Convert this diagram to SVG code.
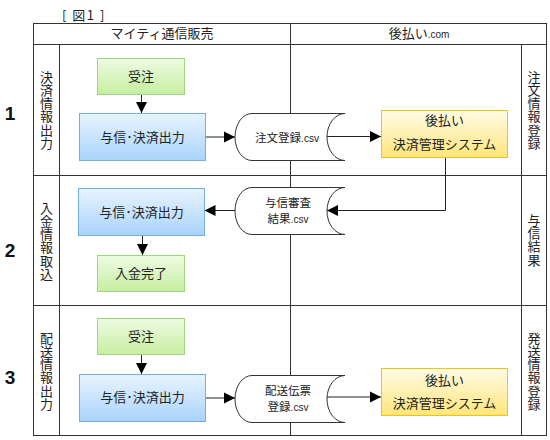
<svg xmlns="http://www.w3.org/2000/svg" width="550" height="440" viewBox="0 0 550 440">
<style>
.t{font-family:"Noto Sans CJK JP","Noto Sans",sans-serif;font-size:13px;fill:#222;text-anchor:middle}
.c{font-family:"Noto Sans CJK JP","Noto Sans",sans-serif;font-size:11.5px;fill:#222;text-anchor:middle}
.s{font-family:"Liberation Sans",Arial,sans-serif;font-size:10px}
.v{font-family:"Noto Sans CJK JP",sans-serif;font-size:13px;fill:#222;text-anchor:middle;writing-mode:vertical-rl;letter-spacing:0.3px}
.n{font-family:"Liberation Sans",Arial,sans-serif;font-size:19px;font-weight:bold;fill:#111;text-anchor:middle}
.fr{stroke:#333;stroke-width:1;fill:none}
.g{fill:url(#gg);stroke:#9ed67a;stroke-width:1}
.b{fill:url(#gb);stroke:#70aee8;stroke-width:1}
.y{fill:url(#gy);stroke:#f5c400;stroke-width:1}
.d{fill:#fff;stroke:#333;stroke-width:1}
.a{stroke:#222;stroke-width:1;fill:none;marker-end:url(#ah)}
</style>
<defs>
<linearGradient id="gg" x1="0" y1="0" x2="0" y2="1"><stop offset="0" stop-color="#eefbe4"/><stop offset="1" stop-color="#c6eea0"/></linearGradient>
<linearGradient id="gb" x1="0" y1="0" x2="0" y2="1"><stop offset="0" stop-color="#e8f4ff"/><stop offset="1" stop-color="#a9d3fb"/></linearGradient>
<linearGradient id="gy" x1="0" y1="0" x2="0" y2="1"><stop offset="0" stop-color="#fffbe6"/><stop offset="1" stop-color="#ffe57a"/></linearGradient>
<marker id="ah" markerUnits="userSpaceOnUse" markerWidth="12" markerHeight="12" refX="11" refY="6" orient="auto"><path d="M0,0.5 L11,6 L0,11.5 Z" fill="#000"/></marker>
</defs>
<rect width="550" height="440" fill="#fff"/>
<text class="t" x="62" y="19.5" style="text-anchor:start;letter-spacing:1.5px" xml:space="preserve">[ 図1 ]</text>
<g id="frame">
<rect class="fr" x="33.5" y="23.5" width="513" height="412"/>
<line class="fr" x1="33.5" y1="44.5" x2="546.5" y2="44.5"/>
<line class="fr" x1="59.5" y1="44.5" x2="59.5" y2="435.5"/>
<line class="fr" x1="290.5" y1="23.5" x2="290.5" y2="435.5"/>
<line class="fr" x1="521.5" y1="44.5" x2="521.5" y2="435.5"/>
<line class="fr" x1="33.5" y1="175.5" x2="546.5" y2="175.5"/>
<line class="fr" x1="33.5" y1="305.5" x2="546.5" y2="305.5"/>
<text class="t" x="162" y="38">マイティ通信販売</text>
<text class="t" x="419" y="38">後払い<tspan class="s">.com</tspan></text>
<text class="n" x="10" y="120">1</text>
<text class="n" x="10" y="257">2</text>
<text class="n" x="10" y="384">3</text>
<text class="v" x="46.5" y="110">決済情報出力</text>
<text class="v" x="46.5" y="241">入金情報取込</text>
<text class="v" x="46.5" y="371">配送情報出力</text>
<text class="v" x="534" y="110">注文情報登録</text>
<text class="v" x="534" y="240">与信結果</text>
<text class="v" x="534" y="371">発送情報登録</text>
</g>
<g id="connectors">
<line class="a" x1="141.5" y1="94.5" x2="141.5" y2="113"/>
<line class="a" x1="206" y1="137" x2="235" y2="137"/>
<line class="a" x1="327" y1="136.5" x2="381" y2="136.5"/>
<polyline class="a" points="445.5,157.5 445.5,210.5 327,210.5"/>
<line class="a" x1="235" y1="210.5" x2="204.5" y2="210.5"/>
<line class="a" x1="142.5" y1="235" x2="142.5" y2="255"/>
<line class="a" x1="141.5" y1="355" x2="141.5" y2="374"/>
<line class="a" x1="206" y1="398" x2="235" y2="398"/>
<line class="a" x1="326" y1="397" x2="381" y2="397"/>
</g>
<g id="n1"><rect class="g" x="97.5" y="58.5" width="87" height="36"/><text class="t" x="141" y="81">受注</text></g>
<g id="n2"><rect class="b" x="79.5" y="113.5" width="126" height="47"/><text class="t" x="142.5" y="141.5">与信･決済出力</text></g>
<g id="n3"><path class="d" d="M252,113.5 H345 A18,23.5 0 0 0 345,160.5 H252 A17,23.5 0 0 1 252,113.5 Z"/><text class="c" x="287" y="141.5">注文登録<tspan class="s">.csv</tspan></text></g>
<g id="n4"><rect class="y" x="381.5" y="110.5" width="126" height="47"/><text class="t" x="444.5" y="125">後払い</text><text class="t" x="444.5" y="149">決済管理システム</text></g>
<g id="n5"><path class="d" d="M252,187.5 H345 A18,23.5 0 0 0 345,234.5 H252 A17,23.5 0 0 1 252,187.5 Z"/><text class="c" x="288" y="206.5">与信審査</text><text class="c" x="288" y="222.5">結果<tspan class="s">.csv</tspan></text></g>
<g id="n6"><rect class="b" x="78.5" y="188.5" width="126" height="47"/><text class="t" x="141.5" y="216.5">与信･決済出力</text></g>
<g id="n7"><rect class="g" x="97.5" y="255.5" width="87" height="36"/><text class="t" x="141" y="278">入金完了</text></g>
<g id="n8"><rect class="g" x="97.5" y="318.5" width="87" height="36"/><text class="t" x="141" y="341">受注</text></g>
<g id="n9"><rect class="b" x="79.5" y="374.5" width="126" height="47"/><text class="t" x="142.5" y="401.5">与信･決済出力</text></g>
<g id="n10"><path class="d" d="M252,375.5 H345 A18,23.5 0 0 0 345,422.5 H252 A17,23.5 0 0 1 252,375.5 Z"/><text class="c" x="288" y="395">配送伝票</text><text class="c" x="288" y="411">登録<tspan class="s">.csv</tspan></text></g>
<g id="n11"><rect class="y" x="381.5" y="368.5" width="126" height="47"/><text class="t" x="444.5" y="384.5">後払い</text><text class="t" x="444.5" y="408">決済管理システム</text></g>
</svg>
